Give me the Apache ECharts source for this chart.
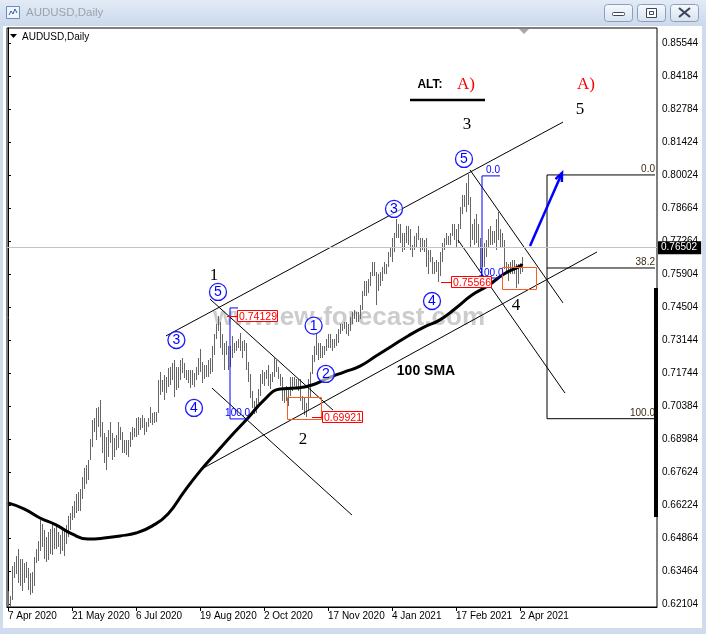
<!DOCTYPE html>
<html>
<head>
<meta charset="utf-8">
<title>AUDUSD,Daily</title>
<script src="https://cdn.jsdelivr.net/npm/echarts/dist/echarts.min.js"></script>
<style>
  html, body { margin: 0; padding: 0; background: #fff; }
  #chart { width: 706px; height: 634px; }
</style>
</head>
<body>
<div id="chart"></div>
<script>
// x axis: one slot per daily bar, 2 px each, labels every 32 bars
const tickLabels = ['7 Apr 2020', '21 May 2020', '6 Jul 2020', '19 Aug 2020', '2 Oct 2020',
  '17 Nov 2020', '4 Jan 2021', '17 Feb 2021', '2 Apr 2021'];
const slotCount = 325;
const priceTicks = [0.62104, 0.63464, 0.64864, 0.66224, 0.67624, 0.68984, 0.70384, 0.71744, 0.73144,
  0.74504, 0.75904, 0.77264, 0.78664, 0.80024, 0.81424, 0.82784, 0.84184, 0.85544];
const lastPrice = 0.76502;

// daily lows / highs, bar 0 = 7 Apr 2020
const lows = [
  0.6160, 0.6175, 0.6225, 0.6320, 0.6335, 0.6300, 0.6285, 0.6265, 0.6300, 0.6320,
  0.6270, 0.6250, 0.6255, 0.6285, 0.6380, 0.6390, 0.6430, 0.6450, 0.6400, 0.6385,
  0.6395, 0.6420, 0.6415, 0.6440, 0.6440, 0.6450, 0.6420, 0.6430, 0.6410, 0.6460,
  0.6490, 0.6520, 0.6560, 0.6570, 0.6590, 0.6600, 0.6600, 0.6650, 0.6690, 0.6710,
  0.6728, 0.6812, 0.6866, 0.6930, 0.6896, 0.6950, 0.6909, 0.6842, 0.6800, 0.6771,
  0.6825, 0.6882, 0.6812, 0.6826, 0.6854, 0.6861, 0.6896, 0.6840, 0.6840, 0.6833,
  0.6826, 0.6868, 0.6896, 0.6910, 0.6910, 0.6917, 0.6938, 0.6945, 0.6917, 0.6931,
  0.6952, 0.6966, 0.6959, 0.6966, 0.6973, 0.7008, 0.7084, 0.7098, 0.7063, 0.7091,
  0.7119, 0.7126, 0.7147, 0.7077, 0.7105, 0.7112, 0.7147, 0.7175, 0.7154, 0.7147,
  0.7133, 0.7112, 0.7126, 0.7119, 0.7147, 0.7168, 0.7180, 0.7135, 0.7150, 0.7160,
  0.7160, 0.7170, 0.7180, 0.7250, 0.7320, 0.7350, 0.7280, 0.7250, 0.7190, 0.7250,
  0.7190, 0.7200, 0.7240, 0.7260, 0.7270, 0.7280, 0.7270, 0.7240, 0.7270, 0.7190,
  0.7140, 0.7070, 0.7030, 0.7006, 0.7010, 0.7050, 0.7080, 0.7130, 0.7120, 0.7150,
  0.7120, 0.7110, 0.7140, 0.7160, 0.7180, 0.7150, 0.7120, 0.7060, 0.7050, 0.7060,
  0.7040, 0.7080, 0.7100, 0.7120, 0.7110, 0.7100, 0.7060, 0.7020, 0.7000, 0.6992,
  0.7020, 0.7070, 0.7170, 0.7220, 0.7250, 0.7230, 0.7240, 0.7240, 0.7250, 0.7270,
  0.7280, 0.7280, 0.7270, 0.7280, 0.7290, 0.7300, 0.7340, 0.7350, 0.7360, 0.7340,
  0.7330, 0.7350, 0.7380, 0.7400, 0.7390, 0.7390, 0.7400, 0.7440, 0.7500, 0.7500,
  0.7510, 0.7540, 0.7580, 0.7580, 0.7460, 0.7520, 0.7540, 0.7560, 0.7590, 0.7590,
  0.7620, 0.7660, 0.7640, 0.7680, 0.7740, 0.7740, 0.7720, 0.7680, 0.7690, 0.7720,
  0.7710, 0.7690, 0.7660, 0.7690, 0.7700, 0.7730, 0.7680, 0.7690, 0.7680, 0.7620,
  0.7590, 0.7640, 0.7590, 0.7590, 0.7600, 0.7557, 0.7580, 0.7640, 0.7690, 0.7710,
  0.7710, 0.7710, 0.7750, 0.7730, 0.7700, 0.7720, 0.7780, 0.7840, 0.7870, 0.7850,
  0.7880, 0.7700, 0.7730, 0.7710, 0.7720, 0.7700, 0.7610, 0.7620, 0.7620, 0.7660,
  0.7700, 0.7710, 0.7710, 0.7720, 0.7690, 0.7730, 0.7700, 0.7700, 0.7610, 0.7590,
  0.7560, 0.7590, 0.7590, 0.7590, 0.7531, 0.7550, 0.7590, 0.7600
];
const highs = [
  0.6265, 0.6245, 0.6370, 0.6385, 0.6410, 0.6440, 0.6400, 0.6400, 0.6380, 0.6385,
  0.6360, 0.6340, 0.6345, 0.6405, 0.6440, 0.6475, 0.6560, 0.6545, 0.6520, 0.6490,
  0.6510, 0.6525, 0.6555, 0.6530, 0.6535, 0.6510, 0.6500, 0.6525, 0.6520, 0.6540,
  0.6580, 0.6590, 0.6620, 0.6640, 0.6670, 0.6680, 0.6690, 0.6740, 0.6780, 0.6790,
  0.6812, 0.6900, 0.6980, 0.6988, 0.7030, 0.7034, 0.7063, 0.6971, 0.6925, 0.6909,
  0.6938, 0.6973, 0.6924, 0.6903, 0.6917, 0.6973, 0.6952, 0.6931, 0.6896, 0.6896,
  0.6896, 0.6931, 0.6952, 0.6945, 0.6987, 0.6994, 0.6987, 0.7001, 0.6987, 0.6973,
  0.6987, 0.7035, 0.7008, 0.7015, 0.7015, 0.7147, 0.7182, 0.7147, 0.7168, 0.7161,
  0.7196, 0.7203, 0.7217, 0.7230, 0.7203, 0.7203, 0.7230, 0.7240, 0.7217, 0.7189,
  0.7189, 0.7189, 0.7189, 0.7175, 0.7203, 0.7240, 0.7276, 0.7220, 0.7210, 0.7210,
  0.7230, 0.7240, 0.7290, 0.7340, 0.7380, 0.7413, 0.7390, 0.7340, 0.7300, 0.7310,
  0.7290, 0.7290, 0.7330, 0.7300, 0.7310, 0.7320, 0.7345, 0.7310, 0.7315, 0.7300,
  0.7220, 0.7170, 0.7100, 0.7060, 0.7070, 0.7110, 0.7170, 0.7190, 0.7180, 0.7190,
  0.7210, 0.7170, 0.7180, 0.7240, 0.7230, 0.7200, 0.7170, 0.7160, 0.7110, 0.7120,
  0.7110, 0.7160, 0.7160, 0.7160, 0.7150, 0.7150, 0.7150, 0.7080, 0.7070, 0.7050,
  0.7150, 0.7180, 0.7250, 0.7290, 0.7340, 0.7300, 0.7300, 0.7290, 0.7290, 0.7320,
  0.7340, 0.7340, 0.7320, 0.7320, 0.7340, 0.7360, 0.7380, 0.7380, 0.7390, 0.7390,
  0.7380, 0.7410, 0.7430, 0.7440, 0.7430, 0.7430, 0.7460, 0.7520, 0.7560, 0.7560,
  0.7570, 0.7600, 0.7640, 0.7640, 0.7600, 0.7590, 0.7600, 0.7620, 0.7640, 0.7630,
  0.7680, 0.7700, 0.7740, 0.7760, 0.7820, 0.7800, 0.7800, 0.7760, 0.7760, 0.7790,
  0.7790, 0.7780, 0.7710, 0.7750, 0.7760, 0.7790, 0.7740, 0.7740, 0.7730, 0.7740,
  0.7690, 0.7690, 0.7660, 0.7640, 0.7650, 0.7640, 0.7680, 0.7720, 0.7740, 0.7760,
  0.7750, 0.7760, 0.7800, 0.7800, 0.7780, 0.7800, 0.7870, 0.7920, 0.7920, 0.7970,
  0.8007, 0.7910, 0.7800, 0.7820, 0.7840, 0.7800, 0.7740, 0.7700, 0.7720, 0.7730,
  0.7780, 0.7790, 0.7770, 0.7770, 0.7820, 0.7849, 0.7780, 0.7760, 0.7730, 0.7640,
  0.7630, 0.7640, 0.7650, 0.7650, 0.7630, 0.7630, 0.7630, 0.7660
];

// 100 SMA every 8 bars
const smaIdx = [0, 8, 16, 24, 32, 40, 48, 56, 64, 72, 80, 88, 96, 104, 112, 120, 128, 136, 144,
  152, 160, 168, 176, 184, 192, 200, 208, 216, 224, 232, 240, 248, 256, 257];
const smaVal = [0.6633, 0.6608, 0.6570, 0.6541, 0.6503, 0.6482, 0.6486, 0.6495, 0.6507, 0.6536,
  0.6587, 0.6679, 0.6766, 0.6842, 0.6917, 0.6988, 0.7063, 0.7109, 0.7113, 0.7126, 0.7155,
  0.7180, 0.7205, 0.7247, 0.7289, 0.7331, 0.7368, 0.7398, 0.7448, 0.7502, 0.7541, 0.7590,
  0.7623, 0.7632];

// drawn objects, in [bar index, price]
const trendLines = [
  [[79, 0.7331], [277.5, 0.8225]],
  [[96, 0.6771], [294.5, 0.7682]],
  [[101, 0.7485], [162.5, 0.7021]],
  [[102, 0.7113], [172, 0.6582]],
  [[231, 0.8025], [277.5, 0.7469]],
  [[225, 0.7732], [278.5, 0.7092]]
];
const projLines = [
  [[269.5, 0.8004], [323.5, 0.8004]],
  [[269.5, 0.7615], [323.5, 0.7615]],
  [[269.5, 0.6985], [323.5, 0.6985]],
  [[269.5, 0.8004], [269.5, 0.6985]]
];
const projLevels = [[323.5, 0.8029, '0.0'], [323.5, 0.7638, '38.2'], [323.5, 0.7009, '100.0']];
const fibLines = [
  [[111, 0.7448], [111, 0.6984]],
  [[111, 0.6984], [120, 0.6984]],
  [[111, 0.7448], [115, 0.7448]],
  [[237, 0.8000], [237, 0.7573]],
  [[237, 0.8000], [246, 0.8000]],
  [[236, 0.7573], [246, 0.7573]]
];
const fibTexts = [[114.8, 0.7009, '100.0'], [242.5, 0.8025, '0.0'], [241.5, 0.7594, '100.0']];
const priceTags = [[109.6, 0.74129], [151.8, 0.69921], [216.5, 0.75566]];
const boxes = [[139.4, 0.7074, 156.4, 0.6982], [247.2, 0.7618, 264.4, 0.7526]];
const waveCircles = [
  [84.2, 0.7314, '3'], [93, 0.7030, '4'], [105, 0.7515, '5'], [152.8, 0.7374, '1'],
  [158.9, 0.7172, '2'], [193, 0.7862, '3'], [212, 0.7477, '4'], [228, 0.8071, '5']
];
const waveNumbers = [[103, 0.7582, '1'], [147.5, 0.6896, '2'], [229.5, 0.8213, '3'],
  [254, 0.7460, '4'], [286, 0.8276, '5']];
const altLabels = [[229, 0.8380, 'A)'], [289, 0.8380, 'A)']];
const boldLabels = [[211, 0.8380, 'ALT:', 12], [209, 0.7184, '100 SMA', 14]];
const altUnderline = [[201, 0.8317], [238.5, 0.8317]];
const arrowPath = [[261, 0.7707], [277, 0.8012]];

const chart = echarts.init(document.getElementById('chart'));
const font = '"Liberation Sans", Arial, sans-serif';

const lineSeries = (pts, color, width) => ({
  type: 'line', xAxisIndex: 1, yAxisIndex: 0, data: pts, symbol: 'none', silent: true,
  lineStyle: { color, width }, z: 4
});

const textSeries = (items, fnt, color, align) => ({
  type: 'custom', xAxisIndex: 1, yAxisIndex: 0, silent: true, z: 6,
  data: items.map((d) => [d[0], d[1]]),
  renderItem: (params, api) => {
    const p = api.coord([api.value(0), api.value(1)]);
    const d = items[params.dataIndex];
    return {
      type: 'text', x: p[0], y: p[1],
      style: { text: d[2], font: typeof fnt === 'function' ? fnt(d) : fnt, fill: color,
        align: align || 'center', verticalAlign: 'middle' }
    };
  }
});

const grad = (a, b) => ({ type: 'linear', x: 0, y: 0, x2: 0, y2: 1,
  colorStops: [{ offset: 0, color: a }, { offset: 1, color: b }] });

const buttons = [604, 637, 670].map((x) => ({
  type: 'rect', shape: { x: x + 0.5, y: 4.5, width: 28, height: 17, r: 3 },
  style: { fill: grad('#f7fafd', '#d6e1ef'), stroke: '#8c9fba', lineWidth: 1 }, z: 20
}));

const series = [
  {
    type: 'custom', xAxisIndex: 1, yAxisIndex: 0, silent: true, clip: true, z: 2,
    data: lows.map((l, i) => [i, l, highs[i]]),
    encode: { x: 0, y: [1, 2] },
    renderItem: (params, api) => {
      const top = api.coord([api.value(0), api.value(2)]);
      const bot = api.coord([api.value(0), api.value(1)]);
      const x = Math.floor(top[0]) + 0.5;
      return { type: 'line', shape: { x1: x, y1: Math.round(top[1]), x2: x, y2: Math.round(bot[1]) },
        style: { stroke: '#656565', lineWidth: 1 } };
    }
  },
  {
    type: 'line', xAxisIndex: 1, yAxisIndex: 0, silent: true, smooth: true, symbol: 'none', z: 3,
    data: smaIdx.map((x, i) => [x, smaVal[i]]),
    lineStyle: { color: '#000', width: 3 },
    markLine: {
      silent: true, symbol: ['none', 'none'], animation: false,
      data: [{ yAxis: lastPrice }],
      lineStyle: { color: '#c4c4c4', width: 1, type: 'solid' },
      label: { show: true, position: 'end', distance: 1, formatter: lastPrice.toFixed(5),
        color: '#fff', backgroundColor: '#000', padding: [2, 4, 1, 3], fontSize: 10, fontFamily: font }
    }
  }
];
trendLines.forEach((t) => series.push(lineSeries(t, '#000', 1)));
projLines.forEach((t) => series.push(lineSeries(t, '#000', 1)));
fibLines.forEach((t) => series.push(lineSeries(t, '#0000ff', 1)));
series.push(lineSeries(altUnderline, '#000', 2.5));

// orange boxes
series.push({
  type: 'custom', xAxisIndex: 1, yAxisIndex: 0, silent: true, z: 5,
  data: boxes,
  renderItem: (params, api) => {
    const a = api.coord([api.value(0), api.value(1)]);
    const b = api.coord([api.value(2), api.value(3)]);
    return { type: 'rect', shape: { x: Math.round(a[0]) + 0.5, y: Math.round(a[1]) + 0.5,
      width: Math.round(b[0] - a[0]), height: Math.round(b[1] - a[1]) },
      style: { fill: 'none', stroke: '#ff5a1f', lineWidth: 1 } };
  }
});

// red price tags
series.push({
  type: 'custom', xAxisIndex: 1, yAxisIndex: 0, silent: true, z: 7,
  data: priceTags,
  renderItem: (params, api) => {
    const p = api.coord([api.value(0), api.value(1)]);
    const x = Math.round(p[0]);
    const y = Math.round(p[1]) + 0.5;
    return { type: 'group', children: [
      { type: 'line', shape: { x1: x, y1: y, x2: x + 10, y2: y }, style: { stroke: '#ff0000', lineWidth: 1 } },
      { type: 'rect', shape: { x: x + 10.5, y: y - 6, width: 40, height: 11 },
        style: { fill: '#fff', stroke: '#ff0000', lineWidth: 1 } },
      { type: 'text', x: x + 31, y: y + 0.5, style: { text: api.value(1).toFixed(5), fill: '#ff0000',
        font: '10.5px ' + font, align: 'center', verticalAlign: 'middle' } }
    ] };
  }
});

// blue circled wave labels
series.push({
  type: 'custom', xAxisIndex: 1, yAxisIndex: 0, silent: true, z: 7,
  data: waveCircles.map((d) => [d[0], d[1]]),
  renderItem: (params, api) => {
    const p = api.coord([api.value(0), api.value(1)]);
    return { type: 'group', children: [
      { type: 'circle', shape: { cx: p[0], cy: p[1], r: 8.5 },
        style: { fill: 'rgba(255,255,255,0.6)', stroke: '#1a1aff', lineWidth: 1.3 } },
      { type: 'text', x: p[0], y: p[1] + 0.5, style: { text: waveCircles[params.dataIndex][2],
        fill: '#0000ff', font: '14px ' + font, align: 'center', verticalAlign: 'middle' } }
    ] };
  }
});

series.push(textSeries(waveNumbers, '17px "Liberation Serif", serif', '#000'));
series.push(textSeries(altLabels, '17px "Liberation Serif", serif', '#ff0000'));
series.push(textSeries(boldLabels, (d) => 'bold ' + d[3] + 'px ' + font, '#000'));
series.push(textSeries(projLevels, '10px ' + font, '#3d2b12', 'right'));
series.push(textSeries(fibTexts, '10px ' + font, '#0000ff'));

// blue projection arrow
series.push({
  type: 'custom', xAxisIndex: 1, yAxisIndex: 0, silent: true, z: 8,
  data: [[arrowPath[0][0], arrowPath[0][1], arrowPath[1][0], arrowPath[1][1]]],
  renderItem: (params, api) => {
    const a = api.coord([api.value(0), api.value(1)]);
    const b = api.coord([api.value(2), api.value(3)]);
    const ang = Math.atan2(b[1] - a[1], b[0] - a[0]);
    const h = 9;
    const l1 = [b[0] - h * Math.cos(ang - 0.4), b[1] - h * Math.sin(ang - 0.4)];
    const l2 = [b[0] - h * Math.cos(ang + 0.4), b[1] - h * Math.sin(ang + 0.4)];
    const st = { stroke: '#0000ff', lineWidth: 2.5, fill: 'none' };
    return { type: 'group', children: [
      { type: 'line', shape: { x1: a[0], y1: a[1], x2: b[0], y2: b[1] }, style: st },
      { type: 'polyline', shape: { points: [l1, b, l2] }, style: st }
    ] };
  }
});

chart.setOption({
  backgroundColor: '#ffffff',
  animation: false,
  textStyle: { fontFamily: font },
  grid: { left: 7, right: 49, top: 28, bottom: 27, show: true, borderColor: '#000', borderWidth: 1 },
  xAxis: [
    {
      type: 'category', data: Array.from({ length: slotCount }, (_, i) => i), boundaryGap: true,
      axisLine: { show: true, lineStyle: { color: '#000', width: 1 } },
      axisTick: { show: true, alignWithLabel: true, length: 4, lineStyle: { color: '#000' },
        interval: (i) => i % 32 === 0 && i <= 256 },
      axisLabel: { show: true, interval: (i) => i % 32 === 0 && i <= 256, align: 'left', margin: 4,
        color: '#000', fontSize: 10, fontFamily: font,
        formatter: (v, i) => tickLabels[i / 32] || '' },
      splitLine: { show: false }
    },
    { type: 'value', min: -0.5, max: slotCount - 0.5, show: false }
  ],
  yAxis: {
    type: 'value', position: 'right', min: 0.61978, max: 0.86183, scale: true,
    axisLine: { show: true, lineStyle: { color: '#000', width: 1 } },
    axisTick: { show: true, length: 3, customValues: priceTicks, lineStyle: { color: '#000' } },
    axisLabel: { show: true, customValues: priceTicks, margin: 5, color: '#000', fontSize: 10,
      fontFamily: font, formatter: (v) => v.toFixed(5) },
    splitLine: { show: false }
  },
  graphic: [
    { type: 'rect', shape: { x: 0, y: 0, width: 706, height: 26 }, style: { fill: grad('#e2ebf6', '#cbd9ec') }, z: 20 },
    { type: 'rect', shape: { x: 0, y: 26, width: 3, height: 608 }, style: { fill: '#cfdcee' }, z: 20 },
    { type: 'rect', shape: { x: 702, y: 26, width: 4, height: 608 }, style: { fill: '#cfdcee' }, z: 20 },
    { type: 'rect', shape: { x: 0, y: 628, width: 706, height: 6 }, style: { fill: '#cfdcee' }, z: 20 },
    { type: 'rect', shape: { x: 6.5, y: 6.5, width: 13, height: 12 }, style: { fill: '#f2f6fb', stroke: '#6a8cc0', lineWidth: 1 }, z: 21 },
    { type: 'polyline', shape: { points: [[9, 15], [11, 11], [13, 14], [15, 9], [17, 13]] }, style: { stroke: '#3060b0', lineWidth: 1, fill: 'none' }, z: 22 },
    { type: 'text', x: 26, y: 13, style: { text: 'AUDUSD,Daily', font: '11.5px ' + font, fill: '#9aa3ad', verticalAlign: 'middle' }, z: 21 },
    ...buttons,
    { type: 'rect', shape: { x: 612.5, y: 12.5, width: 12, height: 3, r: 1 }, style: { fill: '#fff', stroke: '#3b4658', lineWidth: 1 }, z: 22 },
    { type: 'rect', shape: { x: 646.5, y: 8.5, width: 10, height: 9 }, style: { fill: '#fff', stroke: '#3b4658', lineWidth: 1 }, z: 22 },
    { type: 'rect', shape: { x: 649.5, y: 11.5, width: 4, height: 3 }, style: { fill: '#fff', stroke: '#3b4658', lineWidth: 1 }, z: 22 },
    { type: 'polyline', shape: { points: [[679, 8], [690, 17]] }, style: { stroke: '#3b4658', lineWidth: 2.2 }, z: 22 },
    { type: 'polyline', shape: { points: [[690, 8], [679, 17]] }, style: { stroke: '#3b4658', lineWidth: 2.2 }, z: 22 },
    { type: 'polygon', shape: { points: [[10, 34], [17, 34], [13.5, 38]] }, style: { fill: '#000' }, z: 21 },
    { type: 'text', x: 22, y: 37, style: { text: 'AUDUSD,Daily', font: '10px ' + font, fill: '#000', verticalAlign: 'middle' }, z: 21 },
    { type: 'polygon', shape: { points: [[519, 29], [529, 29], [524, 34]] }, style: { fill: '#a8a8a8' }, z: 21 },
    { type: 'rect', shape: { x: 654, y: 288, width: 4, height: 229 }, style: { fill: '#000' }, z: 21 },
    { type: 'text', x: 349, y: 318, style: { text: 'www.ew-forecast.com', font: 'bold 26px ' + font,
      fill: 'rgba(170,170,170,0.6)', align: 'center', verticalAlign: 'middle' }, z: 1 }
  ],
  series
});
</script>
</body>
</html>
